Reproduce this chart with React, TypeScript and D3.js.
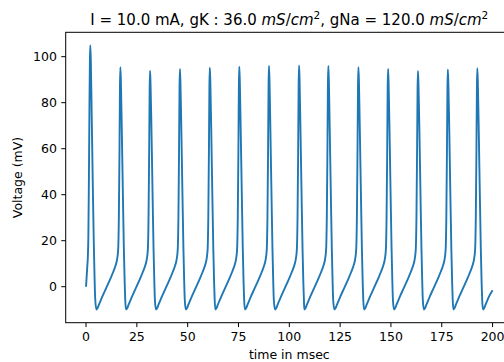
import React from "react";
import * as d3 from "d3";

// time (ms), voltage (mV)
const traceT: number[] = [
  0, 0.3, 0.6, 0.9, 1.15, 1.4, 1.7, 1.9, 2.1, 2.35, 2.8, 3.3, 3.8, 4.2, 4.5,
  5.1, 5.6, 6.4, 7.9, 9.9, 11.9, 13.4, 14.6, 15.3, 15.8, 16.15, 16.45, 16.7, 16.9, 17.15, 17.6, 18.1, 18.6, 19.0, 19.3,
  19.7, 20.2, 21.0, 22.5, 24.5, 26.5, 28.0, 29.2, 29.9, 30.4, 30.75, 31.05, 31.3, 31.5, 31.75, 32.2, 32.7, 33.2, 33.6, 33.9,
  34.4, 34.9, 35.7, 37.2, 39.2, 41.2, 42.7, 43.9, 44.6, 45.1, 45.45, 45.75, 46.0, 46.2, 46.45, 46.9, 47.4, 47.9, 48.3, 48.6,
  49.1, 49.6, 50.4, 51.9, 53.9, 55.9, 57.4, 58.6, 59.3, 59.8, 60.15, 60.45, 60.7, 60.9, 61.15, 61.6, 62.1, 62.6, 63.0, 63.3,
  63.6, 64.1, 64.9, 66.4, 68.4, 70.4, 71.9, 73.1, 73.8, 74.3, 74.65, 74.95, 75.2, 75.4, 75.65, 76.1, 76.6, 77.1, 77.5, 77.8,
  78.2, 78.7, 79.5, 81.0, 83.0, 85.0, 86.5, 87.7, 88.4, 88.9, 89.25, 89.55, 89.8, 90.0, 90.25, 90.7, 91.2, 91.7, 92.1, 92.4,
  93.0, 93.5, 94.3, 95.8, 97.8, 99.8, 101.3, 102.5, 103.2, 103.7, 104.05, 104.35, 104.6, 104.8, 105.05, 105.5, 106.0, 106.5, 106.9, 107.2,
  107.4, 107.9, 108.7, 110.2, 112.2, 114.2, 115.7, 116.9, 117.6, 118.1, 118.45, 118.75, 119.0, 119.2, 119.45, 119.9, 120.4, 120.9, 121.3, 121.6,
  122.2, 122.7, 123.5, 125.0, 127.0, 129.0, 130.5, 131.7, 132.4, 132.9, 133.25, 133.55, 133.8, 134.0, 134.25, 134.7, 135.2, 135.7, 136.1, 136.4,
  136.8, 137.3, 138.1, 139.6, 141.6, 143.6, 145.1, 146.3, 147.0, 147.5, 147.85, 148.15, 148.4, 148.6, 148.85, 149.3, 149.8, 150.3, 150.7, 151.0,
  151.5, 152.0, 152.8, 154.3, 156.3, 158.3, 159.8, 161.0, 161.7, 162.2, 162.55, 162.85, 163.1, 163.3, 163.55, 164.0, 164.5, 165.0, 165.4, 165.7,
  166.2, 166.7, 167.5, 169.0, 171.0, 173.0, 174.5, 175.7, 176.4, 176.9, 177.25, 177.55, 177.8, 178.0, 178.25, 178.7, 179.2, 179.7, 180.1, 180.4,
  180.7, 181.2, 182.0, 183.5, 185.5, 187.5, 189.0, 190.2, 190.9, 191.4, 191.75, 192.05, 192.3, 192.5, 192.75, 193.2, 193.7, 194.2, 194.6, 194.9,
  195.3, 195.8, 196.6, 198.1, 200.0,
];
const traceV: number[] = [
  0, 4.2, 8.6, 13, 22, 45, 80, 98, 105, 99, 74, 46, 20, 4, -5,
  -9.9, -9.4, -7.7, -4.5, -0.6, 3.3, 6.5, 9.4, 12, 16, 30, 58, 87.4, 95.4, 89.4, 68, 42, 17, 2, -6,
  -9.9, -9.4, -7.7, -4.5, -0.6, 3.3, 6.5, 9.4, 12, 16, 30, 58, 85.9, 93.9, 87.9, 68, 42, 17, 2, -6,
  -9.9, -9.4, -7.7, -4.5, -0.6, 3.3, 6.5, 9.4, 12, 16, 30, 58, 86.7, 94.7, 88.7, 68, 42, 17, 2, -6,
  -9.9, -9.4, -7.7, -4.5, -0.6, 3.3, 6.5, 9.4, 12, 16, 30, 58, 87.2, 95.2, 89.2, 68, 42, 17, 2, -6,
  -9.9, -9.4, -7.7, -4.5, -0.6, 3.3, 6.5, 9.4, 12, 16, 30, 58, 87.6, 95.6, 89.6, 68, 42, 17, 2, -6,
  -9.9, -9.4, -7.7, -4.5, -0.6, 3.3, 6.5, 9.4, 12, 16, 30, 58, 88.0, 96.0, 90.0, 68, 42, 17, 2, -6,
  -9.9, -9.4, -7.7, -4.5, -0.6, 3.3, 6.5, 9.4, 12, 16, 30, 58, 88.2, 96.2, 90.2, 68, 42, 17, 2, -6,
  -9.9, -9.4, -7.7, -4.5, -0.6, 3.3, 6.5, 9.4, 12, 16, 30, 58, 88.0, 96.0, 90.0, 68, 42, 17, 2, -6,
  -9.9, -9.4, -7.7, -4.5, -0.6, 3.3, 6.5, 9.4, 12, 16, 30, 58, 87.4, 95.4, 89.4, 68, 42, 17, 2, -6,
  -9.9, -9.4, -7.7, -4.5, -0.6, 3.3, 6.5, 9.4, 12, 16, 30, 58, 86.7, 94.7, 88.7, 68, 42, 17, 2, -6,
  -9.9, -9.4, -7.7, -4.5, -0.6, 3.3, 6.5, 9.4, 12, 16, 30, 58, 85.8, 93.8, 87.8, 68, 42, 17, 2, -6,
  -9.9, -9.4, -7.7, -4.5, -0.6, 3.3, 6.5, 9.4, 12, 16, 30, 58, 86.4, 94.4, 88.4, 68, 42, 17, 2, -6,
  -9.9, -9.4, -7.7, -4.5, -0.6, 3.3, 6.5, 9.4, 12, 16, 30, 58, 87.0, 95.0, 89.0, 68, 42, 17, 2, -6,
  -9.9, -9.4, -7.7, -4.5, -1.5,
];

const xTicks: number[] = [0, 25, 50, 75, 100, 125, 150, 175, 200];
const yTicks: number[] = [0, 20, 40, 60, 80, 100];
const xDomain: [number, number] = [-10, 210];
const yDomain: [number, number] = [-15.65, 110.6];

const W = 504;
const H = 362;
const left = 65.7;
const right = 512.9;
const top = 32.3;
const bottom = 322.7;
const FONT = "DejaVu Sans, sans-serif";

export default function App() {
  const x = d3.scaleLinear().domain(xDomain).range([left, right]);
  const y = d3.scaleLinear().domain(yDomain).range([bottom, top]);
  const pts: [number, number][] = traceT.map((t, i) => [t, traceV[i]]);
  const line = d3
    .line<[number, number]>()
    .x((d) => x(d[0]))
    .y((d) => y(d[1]))
    .curve(d3.curveMonotoneX);
  const cx = (left + right) / 2;
  const cy = (top + bottom) / 2;
  const tickLen = 4.4;
  return (
    <svg
      width={W}
      height={H}
      style={{ position: "absolute", left: 0, top: 0, background: "#fff" }}
      fontFamily={FONT}
    >
      <rect x={0} y={0} width={W} height={H} fill="#fff" />
      <path
        d={line(pts) || ""}
        fill="none"
        stroke="#1f77b4"
        strokeWidth={1.9}
        strokeLinejoin="round"
        strokeLinecap="butt"
      />
      <rect
        x={left}
        y={top}
        width={right - left}
        height={bottom - top}
        fill="none"
        stroke="#000"
        strokeWidth={1}
      />
      {xTicks.map((t) => (
        <g key={"x" + t}>
          <line x1={x(t)} x2={x(t)} y1={bottom} y2={bottom + tickLen} stroke="#000" strokeWidth={1} />
          <text x={x(t)} y={341} fontSize={12.5} textAnchor="middle" fill="#000">
            {t}
          </text>
        </g>
      ))}
      {yTicks.map((t) => (
        <g key={"y" + t}>
          <line x1={left - tickLen} x2={left} y1={y(t)} y2={y(t)} stroke="#000" strokeWidth={1} />
          <text x={left - tickLen - 4.4} y={y(t) + 4.5} fontSize={12.5} textAnchor="end" fill="#000">
            {t}
          </text>
        </g>
      ))}
      <text x={cx} y={359} fontSize={12.5} textAnchor="middle" fill="#000">
        time in msec
      </text>
      <text
        transform={`translate(${22},${cy}) rotate(-90)`}
        fontSize={12.5}
        textAnchor="middle"
        fill="#000"
      >
        Voltage (mV)
      </text>
      <text x={cx} y={24.8} fontSize={15} textAnchor="middle" fill="#000">
        <tspan>I = 10.0 mA, gK : 36.0 </tspan>
        <tspan fontStyle="italic">mS</tspan>
        <tspan>/</tspan>
        <tspan fontStyle="italic">cm</tspan>
        <tspan fontSize={10.5} dy={-6}>2</tspan>
        <tspan dy={6}>, gNa = 120.0 </tspan>
        <tspan fontStyle="italic">mS</tspan>
        <tspan>/</tspan>
        <tspan fontStyle="italic">cm</tspan>
        <tspan fontSize={10.5} dy={-6}>2</tspan>
      </text>
    </svg>
  );
}
